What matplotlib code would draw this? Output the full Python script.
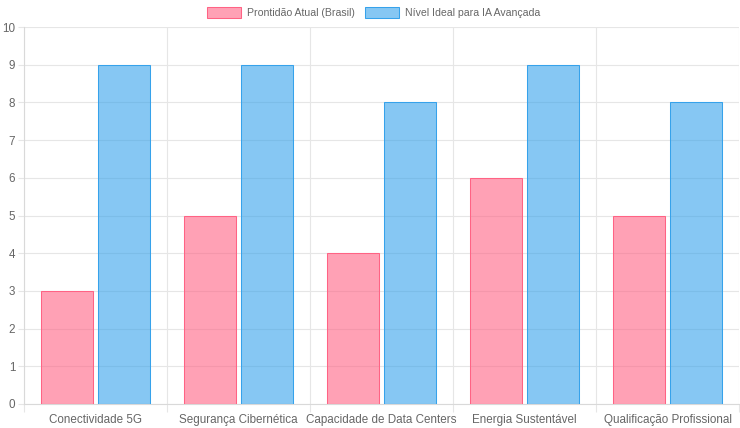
import numpy as np
import matplotlib.pyplot as plt
from matplotlib.patches import Patch

plt.rcParams['font.family'] = ['Liberation Sans', 'DejaVu Sans']

categories = ["Conectividade 5G", "Segurança Cibernética", "Capacidade de Data Centers",
              "Energia Sustentável", "Qualificação Profissional"]
atual = [3, 5, 4, 6, 5]
ideal = [9, 9, 8, 9, 8]
labels = ["Prontidão Atual (Brasil)", "Nível Ideal para IA Avançada"]

pink_fill = (1.0, 99/255, 132/255, 0.6)
pink_edge = (1.0, 99/255, 132/255, 1.0)
blue_fill = (54/255, 162/255, 235/255, 0.6)
blue_edge = (54/255, 162/255, 235/255, 1.0)
grid_c = "#e6e6e6"
text_c = "#666666"
fs = 8.4

W, H = 740, 428
fig = plt.figure(figsize=(W / 100, H / 100), dpi=100)
ax = fig.add_axes([24 / W, (H - 404) / H, (739 - 24) / W, (404 - 27) / H])

x = np.arange(len(categories))
bw = 0.8 / 2 * 0.9
ax.bar(x - 0.2, atual, width=bw, color=pink_fill, edgecolor=pink_edge, linewidth=0.75, zorder=3)
ax.bar(x + 0.2, ideal, width=bw, color=blue_fill, edgecolor=blue_edge, linewidth=0.75, zorder=3)

ax.set_xlim(-0.5, len(categories) - 0.5)
ax.set_ylim(0, 10)
ax.set_yticks(range(0, 11))
ax.set_xticks(x)
ax.set_xticklabels(categories)
ax.set_xticks(np.arange(-0.5, len(categories)), minor=True)

ax.grid(axis='y', color=grid_c, linewidth=0.8, zorder=0)
ax.grid(axis='x', which='minor', color=grid_c, linewidth=0.8, zorder=0)
ax.tick_params(axis='x', which='major', length=0, labelsize=fs, colors=text_c, pad=7)
ax.tick_params(axis='x', which='minor', length=5.5, width=0.8, color=grid_c)
ax.tick_params(axis='y', length=4.3, width=0.8, color=grid_c, labelsize=fs, labelcolor=text_c, pad=2)
for s in ['top', 'right']:
    ax.spines[s].set_visible(False)
for s in ['left', 'bottom']:
    ax.spines[s].set_color("#d9d9d9")
    ax.spines[s].set_linewidth(0.8)

handles = [Patch(facecolor=pink_fill, edgecolor=pink_edge, linewidth=0.75),
           Patch(facecolor=blue_fill, edgecolor=blue_edge, linewidth=0.75)]
fig.legend(handles, labels, loc='upper center', bbox_to_anchor=(0.505, 1.0), ncol=2,
           frameon=False, fontsize=7.6, labelcolor=text_c, handlelength=3.2,
           handleheight=1.1, handletextpad=0.6, columnspacing=0.9, borderaxespad=0.3)

fig.savefig("out.png", dpi=100)
